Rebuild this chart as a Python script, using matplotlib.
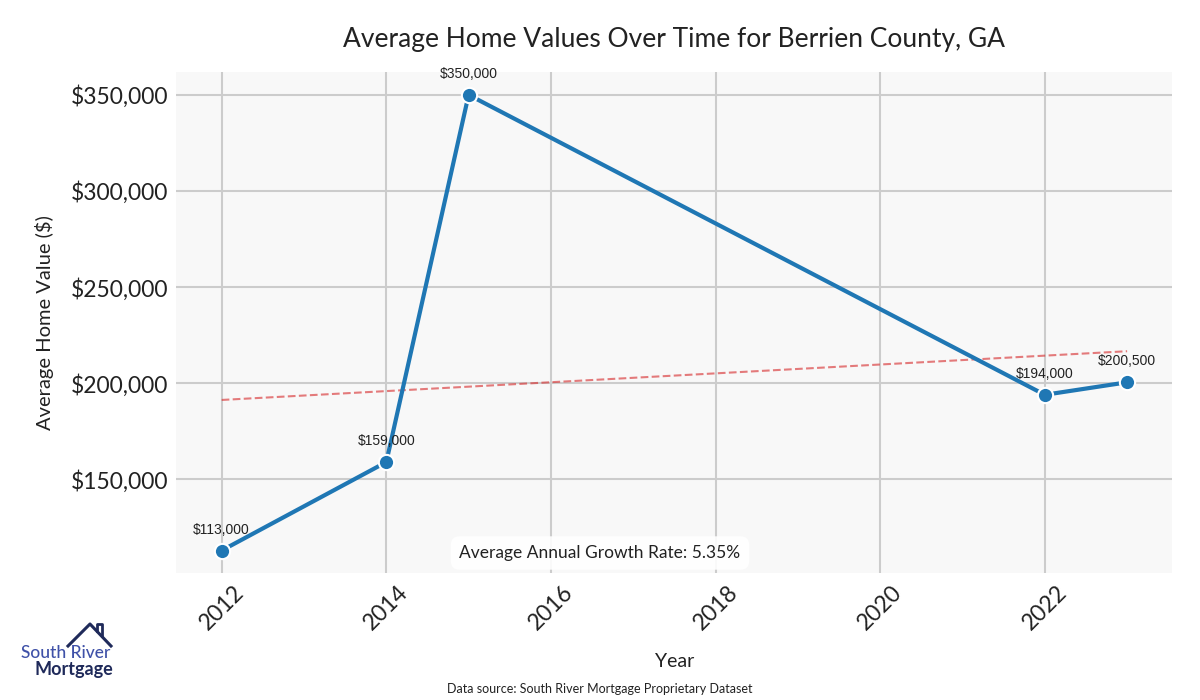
import numpy as np
import matplotlib
matplotlib.use("Agg")
import matplotlib.pyplot as plt
from matplotlib.ticker import FuncFormatter
from matplotlib.lines import Line2D

years = [2012, 2014, 2015, 2022, 2023]
values = [113000, 159000, 350000, 194000, 200500]
value_labels = ["$113,000", "$159,000", "$350,000", "$194,000", "$200,500"]

title = "Average Home Values Over Time for Berrien County, GA"
source = "Data source: South River Mortgage Proprietary Dataset"

main_font = ["Lato", "DejaVu Sans"]
plt.rcParams["font.family"] = main_font

fig = plt.figure(figsize=(12, 7), dpi=100)
ax = fig.add_axes([0.147, 0.181, 0.83, 0.716])
ax.set_facecolor("#f8f8f8")
for s in ax.spines.values():
    s.set_visible(False)
ax.grid(True, color="#cccccc", linewidth=1.5)
ax.set_axisbelow(True)

# trend line from linear fit
coef = np.polyfit(years, values, 1)
ax.plot(years, np.polyval(coef, years), linestyle="--", color="#d62728",
        alpha=0.6, linewidth=1.5, zorder=2)

ax.plot(years, values, color="#1f77b4", linewidth=3, marker="o",
        markersize=11, markeredgecolor="white", markeredgewidth=1.5, zorder=3)

for x, y, lab in zip(years, values, value_labels):
    ax.annotate(lab, (x, y), xytext=(0, 10), textcoords="offset points",
                ha="center", va="bottom", fontsize=10, color="#222222",
                family=["Liberation Sans", "DejaVu Sans"])

ax.yaxis.set_major_formatter(FuncFormatter(lambda v, p: f"${v:,.0f}"))
ax.set_yticks([150000, 200000, 250000, 300000, 350000])
ax.tick_params(axis="both", length=0, labelsize=16.5, labelcolor="#222222", pad=6)
plt.setp(ax.get_xticklabels(), rotation=45)

ax.set_title(title, fontsize=19, color="#222222", pad=18)
ax.set_xlabel("Year", fontsize=14, color="#222222", labelpad=14)
ax.set_ylabel("Average Home Value ($)", fontsize=14.5, color="#222222", labelpad=12)

growth = (values[-1] / values[0]) ** (1 / (years[-1] - years[0])) - 1
fig.text(0.5, 0.21, f"Average Annual Growth Rate: {growth * 100:.2f}%",
         ha="center", va="center", fontsize=12.5, color="#222222",
         bbox=dict(boxstyle="round,pad=0.5", facecolor="white",
                   edgecolor="none", alpha=0.9))

fig.text(0.5, 0.016, source, ha="center", va="center", fontsize=9,
         color="#222222")

# logo
fig.add_artist(Line2D([68 / 1200, 90 / 1200, 111 / 1200],
                      [1 - 646 / 700, 1 - 624 / 700, 1 - 646 / 700],
                      color="#1f2a5a", linewidth=2.2))
fig.add_artist(Line2D([97 / 1200, 97 / 1200, 102 / 1200, 102 / 1200],
                      [1 - 631 / 700, 1 - 624 / 700, 1 - 624 / 700, 1 - 636 / 700],
                      color="#1f2a5a", linewidth=2))
fig.text(66 / 1200, 1 - 653 / 700, "South River", ha="center", va="center",
         fontsize=12.5, color="#3f51a8", fontweight="medium")
fig.text(74 / 1200, 1 - 669 / 700, "Mortgage", ha="center", va="center",
         fontsize=13, color="#1f2a5a", fontweight="bold")

fig.savefig("out.png", dpi=100)
